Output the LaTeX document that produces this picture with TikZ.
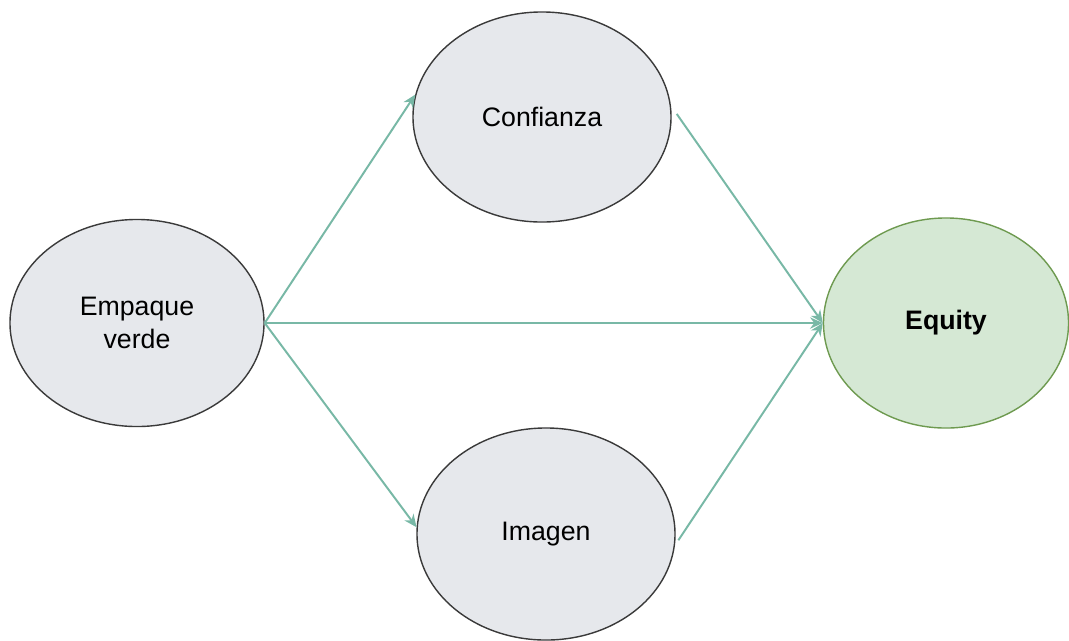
\documentclass[tikz,border=0pt]{standalone}
\usepackage{fontspec}
\setmainfont{Liberation Sans}
\usetikzlibrary{shapes.geometric,arrows.meta}
\definecolor{grayfill}{HTML}{E6E8EC}
\definecolor{grayline}{HTML}{3A3A3A}
\definecolor{greenfill}{HTML}{D5E8D4}
\definecolor{greenline}{HTML}{6E9A50}
\definecolor{flowcol}{HTML}{78B8A6}
\begin{document}
\begin{tikzpicture}[x=0.025cm,y=-0.025cm,
    every node/.append style={ellipse,line width=1pt,align=center,
      font=\fontsize{19}{23}\selectfont,inner sep=0pt},
    construct/.style={draw=grayline,fill=grayfill},
    outcome/.style={draw=greenline,fill=greenfill,font=\fontsize{19}{23}\selectfont\bfseries},
    flow/.style={draw=flowcol,line width=1.4pt,-{Stealth[length=9pt,width=8pt]}}]
    \useasboundingbox (0,0) rectangle (1069,640);
    \node[construct,minimum width=6.35cm,minimum height=5.175cm] (emp) at (137,323) {Empaque\\verde};
    \node[construct,minimum width=6.45cm,minimum height=5.25cm] (conf) at (542,117) {Confianza};
    \node[construct,minimum width=6.45cm,minimum height=5.3cm] (img) at (546,534) {Imagen};
    \node[outcome,minimum width=6.125cm,minimum height=5.25cm] (equ) at (946,323) {Equity};

    \draw[flow] (emp.east) -- (conf.170);
    \draw[flow] (emp.east) -- (equ.west);
    \draw[flow] (emp.east) -- (img.177);
    \draw[flow,shorten <=0.25cm] (conf.5) -- (equ.west);
    \draw[flow,shorten <=0.15cm] (img.-5) -- (equ.west);
\end{tikzpicture}
\end{document}
